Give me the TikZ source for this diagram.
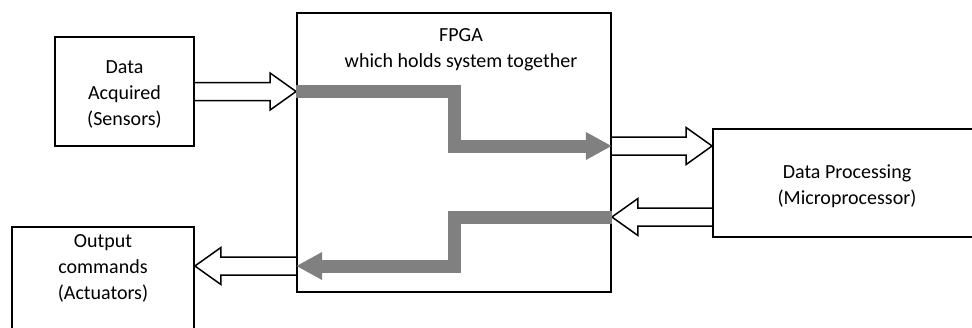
\documentclass[tikz,border=0pt]{standalone}
\usepackage{fontspec}
\setmainfont{Carlito}
\usetikzlibrary{arrows.meta,calc}

\begin{document}
\begin{tikzpicture}[x=1pt,y=-1pt,
  box/.style={draw, line width=1.8pt, inner sep=0pt},
  txt/.style={align=center, inner sep=0pt, font=\fontsize{20}{26}\selectfont},
  hollow/.style={draw, line width=1.5pt, line join=miter},
  flow/.style={draw=gray, line width=13pt, line join=miter,
    -{Triangle[length=26pt,width=26pt]}}]

\useasboundingbox (0,0) rectangle (972,327);

% blocks
\node[box, minimum width=139pt, minimum height=109pt] (sens) at (124.5,91.5) {};
\node[box, minimum width=314pt, minimum height=279pt] (fpga) at (454,152.5) {};
\node[box, minimum width=287pt, minimum height=108pt] (micro) at (856.5,183) {};
\node[box, minimum width=182pt, minimum height=133pt] (act) at (103,293.5) {};

\node[txt] (senstxt) at (124.5,94) {Data\\Acquired\\(Sensors)};
\node[txt] (fpgatxt) at (461,49.5) {FPGA\\which holds system together};
\node[txt] (microtxt) at (847,186) {Data Processing\\(Microprocessor)};
\node[txt] (acttxt) at (103,268) {Output\\commands\\(Actuators)};

% ports
\coordinate (mi) at ([yshift=37pt]micro.west);
\coordinate (mo) at ([yshift=-34pt]micro.west);
\coordinate (ai) at ([yshift=27.5pt]act.east);
\coordinate (fi1) at (fpga.west |- sens.east);
\coordinate (fo1) at (fpga.east |- mi);
\coordinate (fi2) at (fpga.east |- mo);
\coordinate (fo2) at (fpga.west |- ai);

% hollow arrows between blocks
\foreach \s/\t in {sens.east/fi1, fo1/mi, mo/fi2, fo2/ai} {
  \draw[hollow] let \p1=(\s), \p2=(\t), \n1={sign(\x2-\x1)} in
    (\x1,\y1+9pt) -- (\x2-\n1*26pt,\y1+9pt) -- (\x2-\n1*26pt,\y1+18.5pt)
    -- (\x2,\y1) -- (\x2-\n1*26pt,\y1-18.5pt) -- (\x2-\n1*26pt,\y1-9pt)
    -- (\x1,\y1-9pt);
}

% data paths through the FPGA
\draw[flow] (fi1) -| (fpga.center |- fo1) -- (fo1);
\draw[flow] (fi2) -| (fpga.center |- fo2) -- (fo2);

\end{tikzpicture}
\end{document}
